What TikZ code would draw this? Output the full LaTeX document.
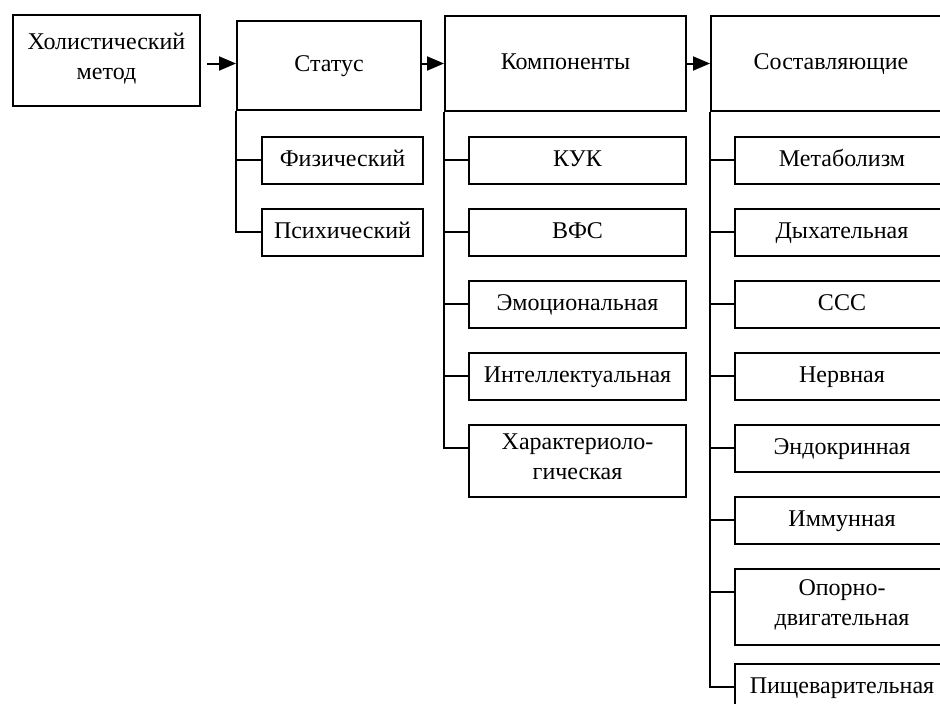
\documentclass[tikz,border=0pt]{standalone}
\usepackage{fontspec}
\setmainfont{Liberation Serif}
\usetikzlibrary{calc,arrows.meta}

\tikzset{
	box/.style={draw, line width=2pt, inner sep=0pt, align=center, anchor=north west,
		font=\fontsize{24}{30}\selectfont,
		execute at begin node=\strut, execute at end node={\rule[-5pt]{0pt}{5pt}}},
	item/.style={box, minimum height=47pt},
	link/.style={line width=2pt},
	go/.style={line width=2pt, -{Triangle[length=17pt,width=14pt]}}
}

\begin{document}
\begin{tikzpicture}[x=1pt,y=-1pt]
			%%%%% START %%%%%
			\useasboundingbox (0,0) rectangle (940,704);
			
			\node[box, minimum width=187pt, minimum height=91pt] (hol) at (12,14) {Холистический\\метод};
			\node[box, minimum width=184pt, minimum height=89pt] (stat) at (236,20) {Статус};
			\node[box, minimum width=241pt, minimum height=95pt] (komp) at (444,15) {Компоненты};
			\node[box, minimum width=240pt, minimum height=95pt] (sost) at (710,15) {Составляющие};
			
			% status
			\node[item, minimum width=161pt] (fiz) at (261,136) {Физический};
			\node[item, minimum width=161pt] (psi) at (261,208) {Психический};
			
			% components
			\node[item, minimum width=217pt] (kuk) at (468,136) {КУК};
			\node[item, minimum width=217pt] (vfs) at (468,208) {ВФС};
			\node[item, minimum width=217pt] (emo) at (468,280) {Эмоциональная};
			\node[item, minimum width=217pt] (intel) at (468,352) {Интеллектуальная};
			\node[item, minimum width=217pt, minimum height=72pt] (har) at (468,424) {Характериоло-\\гическая};
			
			% parts
			\node[item, minimum width=214pt] (met) at (734,136) {Метаболизм};
			\node[item, minimum width=214pt] (dyh) at (734,208) {Дыхательная};
			\node[item, minimum width=214pt] (sss) at (734,280) {ССС};
			\node[item, minimum width=214pt] (nerv) at (734,352) {Нервная};
			\node[item, minimum width=214pt] (endo) at (734,424) {Эндокринная};
			\node[item, minimum width=214pt] (imm) at (734,496) {Иммунная};
			\node[item, minimum width=214pt, minimum height=76pt] (opor) at (734,568) {Опорно-\\двигательная};
			\node[item, minimum width=214pt] (pish) at (734,663) {Пищеварительная};
			
			% arrows
			\draw[go] ([xshift=6pt]hol.east |- komp.west) -- (stat.west |- komp.west);
			\draw[go] (stat.east |- komp.west) -- (komp.west);
			\draw[go] (komp.east) -- (sost.west);
			
			% tree lines
			\foreach \n in {fiz,psi}
				\draw[link] (stat.south west) |- ([yshift=-23.5pt]\n.north west);
			\foreach \n in {kuk,vfs,emo,intel,har}
				\draw[link] (komp.south west) |- ([yshift=-23.5pt]\n.north west);
			\foreach \n in {met,dyh,sss,nerv,endo,imm,opor,pish}
				\draw[link] (sost.south west) |- ([yshift=-23.5pt]\n.north west);
			
			%%%%% END %%%%%
\end{tikzpicture}
\end{document}
